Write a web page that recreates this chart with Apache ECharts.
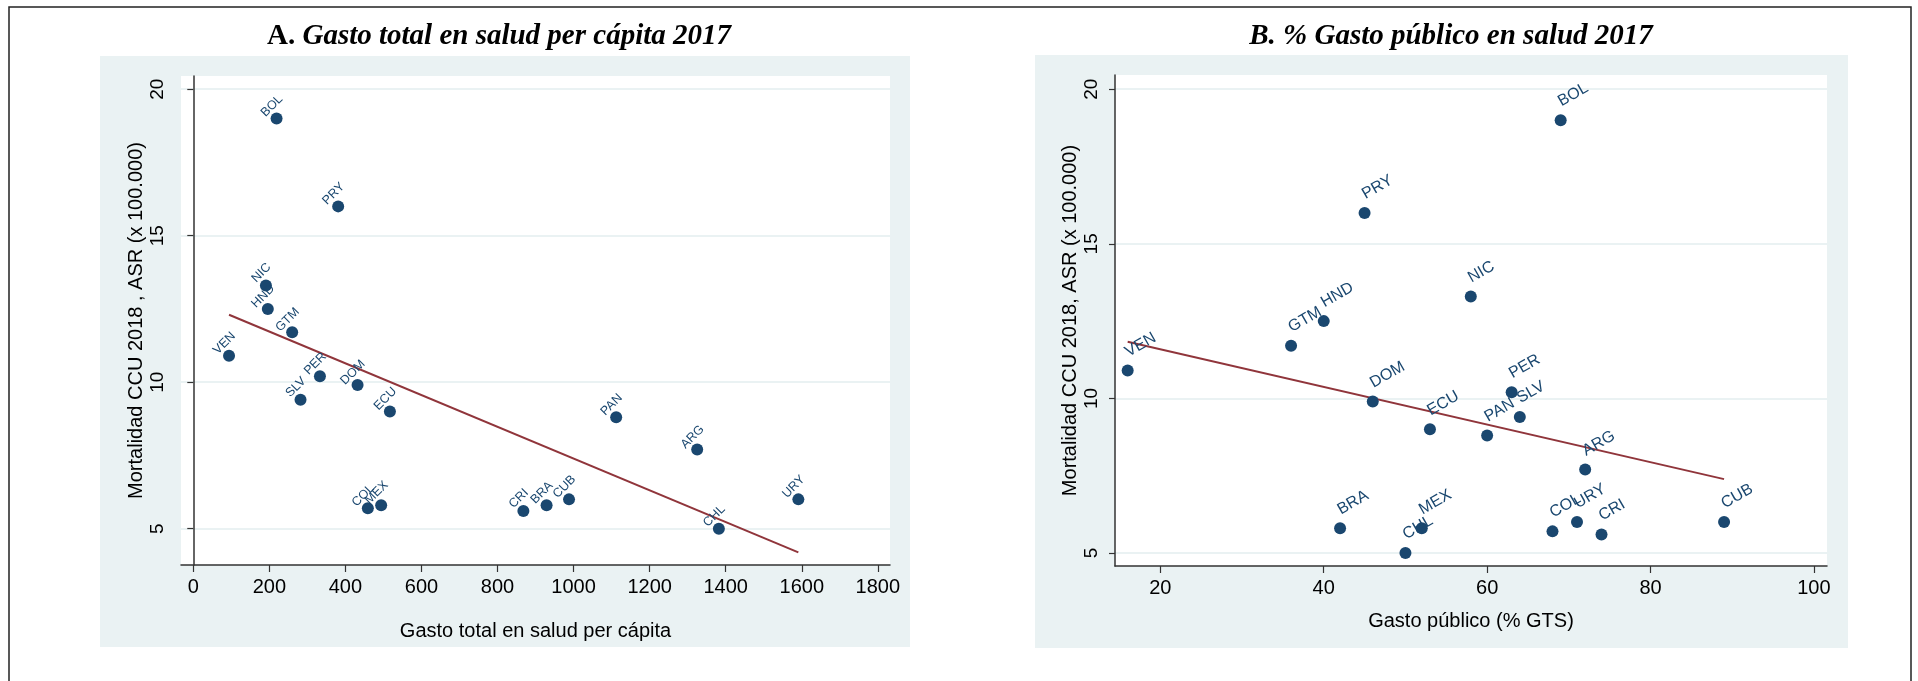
<!DOCTYPE html>
<html lang="es">
<head>
  <meta charset="UTF-8">
  <title>Mortalidad CCU y gasto en salud</title>
  <script src="https://cdn.jsdelivr.net/npm/echarts@6.0.0/dist/echarts.min.js"></script>
  <style>
    html, body {margin: 0; padding: 0; background: #fff;}
    #main {width: 1918px; height: 681px;}
  </style>
</head>
<body>
  <div id="main"></div>
  <script>
    // datos
    var paises = ['ARG', 'BOL', 'BRA', 'CHL', 'COL', 'CRI', 'CUB', 'DOM', 'ECU', 'GTM', 'HND', 'MEX', 'NIC', 'PAN', 'PER', 'PRY', 'SLV', 'URY', 'VEN'];
    var mortalidad = [7.7, 19.0, 5.8, 5.0, 5.7, 5.6, 6.0, 9.9, 9.0, 11.7, 12.5, 5.8, 13.3, 8.8, 10.2, 16.0, 9.4, 6.0, 10.9];
    var gastoTotal = [1325, 219, 929, 1382, 459, 868, 988, 432, 517, 260, 196, 494, 191, 1112, 333, 381, 282, 1591, 94];
    var gastoPublico = [72, 69, 42, 50, 68, 74, 89, 46, 53, 36, 40, 52, 58, 60, 63, 45, 64, 71, 16];
    // recta de ajuste (extremos)
    var ajusteA_x = [94, 1591];
    var ajusteA_y = [12.3, 4.19];
    var ajusteB_x = [16, 89];
    var ajusteB_y = [11.83, 7.39];
    // marcas de los ejes
    var ticksA_x = [0, 200, 400, 600, 800, 1000, 1200, 1400, 1600, 1800];
    var ticksB_x = [20, 40, 60, 80, 100];
    var ticksY = [5, 10, 15, 20];

    var azul = '#1a476f';
    var granate = '#90353b';
    var fondo = '#eaf2f3';
    var sans = '"Liberation Sans", Arial, Helvetica, sans-serif';
    var serif = '"Liberation Serif", "Times New Roman", serif';

    function puntos(xs){
      var d = [];
      for(var i = 0; i < paises.length; i++){
        d.push({value: [xs[i], mortalidad[i]], name: paises[i]});
      }
      return d;
    }
    function recta(xs, ys){
      return [[xs[0], ys[0]], [xs[1], ys[1]]];
    }
    function sinFormato(v){
      return String(v);
    }
    function ejeY(idx, min, max, nombre){
      return {
        gridIndex: idx, type: 'value', min: min, max: max,
        name: nombre, nameLocation: 'middle', nameGap: 35,
        nameTextStyle: {fontFamily: sans, fontSize: 20, color: '#000'},
        axisLine: {show: true, lineStyle: {color: '#333', width: 1.5}},
        axisTick: {show: true, length: 6, customValues: ticksY, lineStyle: {color: '#333', width: 1.2}},
        axisLabel: {customValues: ticksY, rotate: 90, margin: 14, fontFamily: sans, fontSize: 19, color: '#000', formatter: sinFormato},
        splitLine: {show: true, lineStyle: {color: fondo, width: 2}}
      };
    }
    function ejeX(idx, min, max, ticks, nombre, gap){
      return {
        gridIndex: idx, type: 'value', min: min, max: max,
        name: nombre, nameLocation: 'middle', nameGap: gap,
        nameTextStyle: {fontFamily: sans, fontSize: 20, color: '#000'},
        axisLine: {show: true, onZero: false, lineStyle: {color: '#333', width: 1.5}},
        axisTick: {show: true, length: 7, customValues: ticks, lineStyle: {color: '#333', width: 1.2}},
        axisLabel: {customValues: ticks, margin: 12, fontFamily: sans, fontSize: 20, color: '#000', formatter: sinFormato},
        splitLine: {show: false}
      };
    }

    var myChart = echarts.init(document.getElementById('main'));
    var option = {
      animation: false,
      backgroundColor: '#fff',
      graphic: [
        {type: 'rect', z: -10, silent: true, shape: {x: 9, y: 7, width: 1902, height: 700}, style: {fill: 'none', stroke: '#222', lineWidth: 1.5}},
        {type: 'rect', z: -10, silent: true, shape: {x: 100, y: 56, width: 810, height: 591}, style: {fill: fondo}},
        {type: 'rect', z: -10, silent: true, shape: {x: 1035, y: 55, width: 813, height: 593}, style: {fill: fondo}},
        {type: 'text', x: 499, y: 37, silent: true, style: {
          text: '{a|A. }{b|Gasto total en salud per cápita 2017}',
          align: 'center', verticalAlign: 'middle',
          rich: {
            a: {fontFamily: serif, fontWeight: 'bold', fontSize: 29, fill: '#000'},
            b: {fontFamily: serif, fontWeight: 'bold', fontStyle: 'italic', fontSize: 29, fill: '#000'}
          }
        }},
        {type: 'text', x: 1451, y: 37, silent: true, style: {
          text: 'B. % Gasto público en salud 2017',
          align: 'center', verticalAlign: 'middle',
          fontFamily: serif, fontWeight: 'bold', fontStyle: 'italic', fontSize: 29, fill: '#000'
        }}
      ],
      grid: [
        {left: 181, right: 1028, top: 76, height: 489, show: true, backgroundColor: '#fff', borderWidth: 0},
        {left: 1115, right: 91, top: 75, height: 491, show: true, backgroundColor: '#fff', borderWidth: 0}
      ],
      xAxis: [
        ejeX(0, -32.3, 1832, ticksA_x, 'Gasto total en salud per cápita', 56),
        ejeX(1, 14.45, 101.6, ticksB_x, 'Gasto público (% GTS)', 45)
      ],
      yAxis: [
        ejeY(0, 3.76, 20.45, 'Mortalidad CCU 2018 , ASR (x 100.000)'),
        ejeY(1, 4.58, 20.46, 'Mortalidad CCU 2018, ASR (x 100.000)')
      ],
      series: [
        {
          type: 'scatter', xAxisIndex: 0, yAxisIndex: 0, z: 3,
          symbol: 'circle', symbolSize: 12,
          itemStyle: {color: azul, opacity: 1},
          label: {show: true, formatter: '{b}', position: 'top', distance: 2, rotate: 45,
            align: 'center', verticalAlign: 'bottom', fontFamily: sans, fontSize: 12.5, color: azul, opacity: 1},
          data: puntos(gastoTotal)
        },
        {
          type: 'line', xAxisIndex: 0, yAxisIndex: 0, z: 2,
          symbol: 'none', lineStyle: {color: granate, width: 2},
          data: recta(ajusteA_x, ajusteA_y)
        },
        {
          type: 'scatter', xAxisIndex: 1, yAxisIndex: 1, z: 3,
          symbol: 'circle', symbolSize: 12,
          itemStyle: {color: azul, opacity: 1},
          label: {show: true, formatter: '{b}', position: 'top', distance: 3, rotate: 30, offset: [3, 0],
            align: 'left', verticalAlign: 'bottom', fontFamily: sans, fontSize: 16, color: azul, opacity: 1},
          data: puntos(gastoPublico)
        },
        {
          type: 'line', xAxisIndex: 1, yAxisIndex: 1, z: 2,
          symbol: 'none', lineStyle: {color: granate, width: 2},
          data: recta(ajusteB_x, ajusteB_y)
        }
      ]
    };
    myChart.setOption(option);
  </script>
</body>
</html>
